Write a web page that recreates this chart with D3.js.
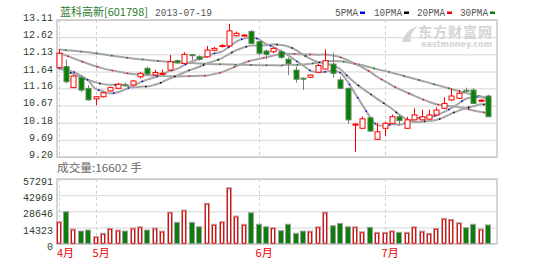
<!DOCTYPE html>
<html><head><meta charset="utf-8">
<script src="https://cdn.jsdelivr.net/npm/d3@7"></script>
<style>body{margin:0;background:#fff}svg{display:block}</style>
</head><body><svg id="c" width="550" height="262"></svg>
<script>
const opens =[11.75,11.78,11.18,11.46,11.16,10.86,10.92,11.085,11.16,11.26,11.255,11.49,11.73,11.54,11.59,11.68,11.95,11.87,12.12,12.06,12.06,12.245,12.37,12.37,12.66,12.67,12.78,12.49,12.225,12.205,12.205,11.99,11.68,11.45,11.475,11.62,11.71,11.85,11.40,11.16,10.11,10.02,10.32,9.705,10.02,10.16,10.35,10.02,10.26,10.26,10.28,10.40,10.59,10.83,10.875,11.105,11.11,10.80,10.94];
const highs =[12.27,11.98,11.54,11.54,11.25,10.94,11.06,11.21,11.32,11.33,11.40,11.62,11.78,11.69,11.69,12.11,11.98,12.19,12.13,12.10,12.37,12.34,12.42,13.00,12.78,12.71,12.83,12.52,12.27,12.33,12.27,12.04,11.78,11.47,11.56,11.86,12.27,12.18,11.49,11.18,10.16,10.36,10.34,10.18,10.21,10.41,10.41,10.35,10.59,10.55,10.55,10.62,10.90,11.16,11.12,11.18,11.16,10.86,10.98];
const lows  =[11.75,11.30,11.17,11.05,10.81,10.68,10.90,11.06,11.14,11.21,11.24,11.44,11.54,11.52,11.54,11.66,11.85,11.85,11.97,11.95,12.03,12.22,12.33,12.32,12.64,12.64,12.42,12.10,11.99,12.16,12.00,11.54,11.32,11.11,11.45,11.60,11.70,11.47,11.14,10.14,9.35,10.00,9.92,9.69,9.80,10.15,10.10,10.00,10.24,10.25,10.27,10.38,10.57,10.80,10.86,11.05,10.72,10.78,10.35];
const closes=[12.16,11.35,11.51,11.11,10.83,10.92,11.035,11.18,11.275,11.24,11.37,11.59,11.57,11.61,11.59,11.92,11.89,12.13,12.10,11.99,12.25,12.30,12.38,12.80,12.73,12.68,12.445,12.16,12.13,12.30,12.045,11.87,11.42,11.44,11.54,11.81,11.95,11.59,11.16,10.26,10.14,10.29,9.94,9.92,10.16,10.35,10.24,10.26,10.40,10.35,10.40,10.54,10.73,10.94,11.02,11.09,10.73,10.82,10.35];
const volumes=[19500,28300,13000,11200,12100,6200,9200,13600,12100,11200,13900,15000,12100,13900,11200,28000,18900,29800,18900,15000,35800,17200,19500,49600,24500,17200,27400,17200,15000,14200,11500,17200,9200,11200,11200,15000,28000,15900,18000,15000,15000,10600,14500,10100,10100,11500,10100,10100,15000,11200,9200,13600,22500,21600,18600,14200,17200,13000,16602];
const ma5 =[11.74,11.70,11.63,11.52,11.39,11.144,11.081,11.015,11.048,11.13,11.22,11.331,11.409,11.476,11.546,11.656,11.716,11.828,11.926,12.006,12.072,12.154,12.204,12.344,12.492,12.578,12.607,12.563,12.429,12.343,12.216,12.101,11.953,11.815,11.663,11.616,11.632,11.666,11.61,11.354,11.02,10.688,10.358,10.11,10.09,10.132,10.122,10.186,10.282,10.32,10.33,10.39,10.484,10.592,10.726,10.864,10.902,10.92,10.802];
const ma10=[11.74,11.66,11.57,11.47,11.40,11.33,11.28,11.26,11.26,11.261,11.182,11.206,11.212,11.262,11.338,11.438,11.524,11.619,11.701,11.776,11.864,11.935,12.016,12.135,12.249,12.325,12.38,12.384,12.387,12.418,12.397,12.354,12.258,12.122,12.003,11.916,11.867,11.81,11.713,11.509,11.318,11.16,11.012,10.86,10.722,10.576,10.405,10.272,10.196,10.205,10.231,10.256,10.335,10.437,10.523,10.597,10.646,10.702,10.697];
const ma20=[12.18,12.10,12.02,11.94,11.86,11.79,11.73,11.68,11.64,11.60,11.57,11.55,11.53,11.52,11.51,11.505,11.50,11.505,11.51,11.519,11.523,11.571,11.614,11.699,11.794,11.882,11.952,12.001,12.044,12.097,12.131,12.145,12.137,12.129,12.126,12.121,12.124,12.097,12.05,11.963,11.858,11.757,11.635,11.491,11.363,11.246,11.136,11.041,10.954,10.857,10.775,10.708,10.674,10.649,10.623,10.587,10.526,10.487,10.447];
const ma30=[12.27,12.25,12.23,12.21,12.19,12.16,12.13,12.10,12.07,12.04,12.01,11.99,11.97,11.95,11.93,11.91,11.90,11.89,11.88,11.87,11.86,11.85,11.845,11.84,11.835,11.83,11.825,11.82,11.82,11.818,11.814,11.832,11.829,11.840,11.863,11.893,11.924,11.937,11.933,11.901,11.860,11.816,11.762,11.706,11.658,11.606,11.551,11.488,11.432,11.377,11.315,11.257,11.202,11.140,11.083,11.030,10.973,10.928,10.869];
const priceTicks=[9.20,9.69,10.18,10.67,11.16,11.64,12.13,12.62,13.11];
const volTicks=[0,14323,28646,42969,57291];
const monthLabels=["4月","5月","6月","7月"];
const monthStarts=[0,5,27,44];
const maNames=["5PMA","10PMA","20PMA","30PMA"];
const maColors=["#0000ff","#000000","#ff0000","#008000"];
const stockName="蓝科高新[601798]";
const dateText="2013-07-19";
const volText="成交量:16602 手";

const svg=d3.select("#c");
const L=57,R=497,PT=20,PB=157,VT=179,VB=243.7;
const idx=d3.range(closes.length);
const x=d3.scalePoint().domain(idx).range([58.5,488.3]);
const y=d3.scaleLinear().domain([9.20,13.11]).range([PB,PT]);
const yv=d3.scaleLinear().domain([0,57291]).range([VB,VT]);
const mono="'Liberation Mono','DejaVu Sans Mono',monospace";
const cjk="'Noto Sans CJK SC','Noto Sans',sans-serif";

// price grid + axis
const pa=svg.append("g").attr("transform",`translate(${L},0)`)
  .call(d3.axisLeft(y).tickValues(priceTicks).tickSize(-(R-L)).tickFormat(d=>d.toFixed(2)));
pa.select(".domain").remove();
pa.selectAll(".tick line").attr("stroke","#d6d6d6");
pa.selectAll(".tick text").attr("x",-4).attr("dy","0.05em").attr("fill","#2f402f")
  .style("font-family",mono).style("font-size","10px");
// volume grid + axis
const va=svg.append("g").attr("transform",`translate(${L},0)`)
  .call(d3.axisLeft(yv).tickValues(volTicks).tickSize(-(R-L)).tickFormat(d3.format("d")));
va.select(".domain").remove();
va.selectAll(".tick line").attr("stroke","#d6d6d6");
va.selectAll(".tick text").attr("x",-4).attr("dy","0.55em").attr("fill","#2f402f")
  .style("font-family",mono).style("font-size","10px");

// month dashed lines
monthStarts.forEach(i=>{
  [[PT,PB],[VT,VB]].forEach(([a,b])=>{
    svg.append("line").attr("x1",Math.round(x(i))+0.5).attr("x2",Math.round(x(i))+0.5)
      .attr("y1",a).attr("y2",b).attr("stroke","#cfcfcf").attr("stroke-dasharray","3,3");
  });
});
svg.selectAll(".ml").data(monthLabels).join("text")
  .attr("x",(d,k)=>Math.max(L,x(monthStarts[k])-3)).attr("y",257)
  .attr("fill","#e00").style("font-family",cjk).style("font-size","11px").text(d=>d);

// borders
svg.append("rect").attr("x",L).attr("y",PT).attr("width",R-L).attr("height",PB-PT)
  .attr("fill","none").attr("stroke","#c8c8c8").attr("stroke-width",1.5);
svg.append("rect").attr("x",L).attr("y",VT).attr("width",R-L).attr("height",VB-VT)
  .attr("fill","none").attr("stroke","#c8c8c8").attr("stroke-width",1.5);

// watermark
const wm=svg.append("g");
wm.append("path").attr("d","M402,42 C404,34 410,28 418,26 C412,31 410,36 411,42 Z").attr("fill","#d6d6d6");
wm.append("text").attr("x",418).attr("y",37).attr("fill","#d4d4d4").style("font-family",cjk)
  .style("font-size","14px").style("font-weight","bold").attr("textLength",74).text("东方财富网");
wm.append("text").attr("x",421).attr("y",46.5).attr("fill","#d4d4d4").style("font-family","'DejaVu Sans',sans-serif")
  .style("font-size","8px").style("font-weight","bold").attr("textLength",71).text("eastmoney.com");

// header
svg.append("text").attr("x",60).attr("y",16).attr("fill","#2e7a2e").style("font-family",cjk)
  .style("font-size","11px").attr("textLength",88).attr("lengthAdjust","spacingAndGlyphs").text(stockName);
svg.append("text").attr("x",155).attr("y",16).attr("fill","#555").style("font-family",mono)
  .style("font-size","10px").attr("textLength",57).attr("lengthAdjust","spacingAndGlyphs").text(dateText);
const legX=[335,374,417,460], legW=[23,28,28,28];
maNames.forEach((n,k)=>{
  svg.append("text").attr("x",legX[k]).attr("y",16).attr("fill","#555").style("font-family",mono)
    .style("font-size","10px").attr("textLength",legW[k]).attr("lengthAdjust","spacingAndGlyphs").text(n);
  svg.append("rect").attr("x",legX[k]+legW[k]+2).attr("y",11.5).attr("width",5).attr("height",2.5).attr("fill",maColors[k]);
});
svg.append("text").attr("x",57).attr("y",171.5).attr("fill","#666").style("font-family",cjk)
  .style("font-size","11px").attr("textLength",85).attr("lengthAdjust","spacingAndGlyphs").text(volText);

// MA lines
const clipId="pc";
svg.append("clipPath").attr("id",clipId).append("rect").attr("x",L).attr("y",PT).attr("width",R-L).attr("height",PB-PT);
const mg=svg.append("g").attr("clip-path",`url(#${clipId})`);
[ma30,ma20,ma10,ma5].forEach((arr,j)=>{
  const k=3-j;
  const ln=d3.line().x((d,i)=>x(i)).y(d=>y(d)).curve(d3.curveMonotoneX);
  mg.append("path").attr("d",ln(arr)).attr("fill","none").attr("stroke","#a6a6a6").attr("stroke-width",2);
  mg.append("path").attr("d",ln(arr)).attr("fill","none").attr("stroke",maColors[k]).attr("stroke-width",1.5)
    .attr("stroke-dasharray","1.5,14").attr("stroke-dashoffset",k*3);
});

// candles
const cg=svg.append("g");
idx.forEach(i=>{
  const up=closes[i]>=opens[i];
  const cx=Math.round(x(i))+0.5;
  const col=up?"#f00":"#7d7d7d";
  const top=y(Math.max(opens[i],closes[i])), bot=y(Math.min(opens[i],closes[i]));
  cg.append("line").attr("x1",cx).attr("x2",cx).attr("y1",y(highs[i])).attr("y2",y(lows[i])).attr("stroke",col).attr("stroke-width",1);
  const h=Math.max(1,bot-top);
  if(up){
    cg.append("rect").attr("x",cx-2.5).attr("y",top).attr("width",5).attr("height",h)
      .attr("fill",h>1.5?"#fff":"#f00").attr("stroke","#f00").attr("stroke-width",1);
  } else {
    cg.append("rect").attr("x",cx-2.5).attr("y",top).attr("width",5).attr("height",h)
      .attr("fill","#0a800a").attr("stroke","#558855").attr("stroke-width",1);
  }
});

// volume bars
const vg=svg.append("g");
idx.forEach(i=>{
  const up=closes[i]>=opens[i];
  const lx=Math.round(x(i))-3;
  const t=yv(volumes[i]);
  const h=VB-t;
  if(up){
    vg.append("rect").attr("x",lx+0.5).attr("y",t).attr("width",5).attr("height",h)
      .attr("fill","#fff").attr("stroke","#a8a8a8").attr("stroke-width",1);
    vg.append("rect").attr("x",lx+1.5).attr("y",t+1).attr("width",3).attr("height",Math.max(0,h-1.5))
      .attr("fill","none").attr("stroke","#f00").attr("stroke-width",1);
  } else {
    vg.append("rect").attr("x",lx+0.5).attr("y",t).attr("width",5).attr("height",h)
      .attr("fill","#0a800a").attr("stroke","#a0a0a0").attr("stroke-width",1);
  }
});
</script></body></html>
